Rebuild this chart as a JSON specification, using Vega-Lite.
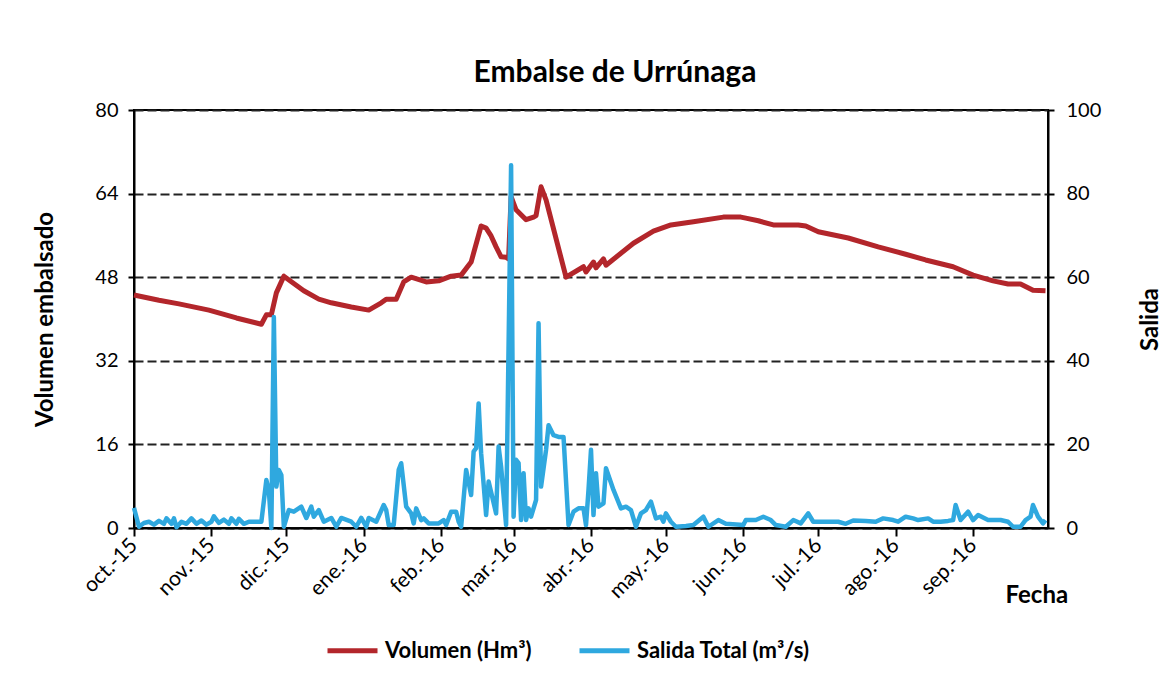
{
  "$schema": "https://vega.github.io/schema/vega-lite/v6.json",
  "width": 914,
  "height": 418,
  "autosize": "none",
  "padding": {"left": 134, "top": 110, "right": 125, "bottom": 153},
  "background": "white",
  "title": {"text": "Embalse de Urrúnaga", "fontSize": 30, "font": "Lato", "fontWeight": "bold", "color": "#000", "offset": 12, "dx": 24, "anchor": "middle", "frame": "group"},
  "datasets": {
    "vol": [
      {"f": "2015-10-01", "v": 44.6}, {"f": "2015-10-11", "v": 43.6}, {"f": "2015-10-19", "v": 42.9}, {"f": "2015-10-31", "v": 41.7},
      {"f": "2015-11-11", "v": 40.2}, {"f": "2015-11-21", "v": 39.0}, {"f": "2015-11-23", "v": 40.8}, {"f": "2015-11-25", "v": 40.8},
      {"f": "2015-11-27", "v": 45.0}, {"f": "2015-11-30", "v": 48.2}, {"f": "2015-12-08", "v": 45.4}, {"f": "2015-12-14", "v": 43.8},
      {"f": "2015-12-19", "v": 43.1}, {"f": "2015-12-27", "v": 42.3}, {"f": "2016-01-03", "v": 41.7}, {"f": "2016-01-08", "v": 43.1},
      {"f": "2016-01-10", "v": 43.8}, {"f": "2016-01-14", "v": 43.8}, {"f": "2016-01-17", "v": 47.1}, {"f": "2016-01-20", "v": 48.0},
      {"f": "2016-01-26", "v": 47.1}, {"f": "2016-01-31", "v": 47.3}, {"f": "2016-02-05", "v": 48.2}, {"f": "2016-02-09", "v": 48.4},
      {"f": "2016-02-13", "v": 50.9}, {"f": "2016-02-17", "v": 57.8}, {"f": "2016-02-19", "v": 57.4}, {"f": "2016-02-21", "v": 55.9},
      {"f": "2016-02-23", "v": 53.8}, {"f": "2016-02-25", "v": 51.9}, {"f": "2016-02-27", "v": 51.8}, {"f": "2016-02-28", "v": 51.5},
      {"f": "2016-02-29", "v": 63.4}, {"f": "2016-03-02", "v": 60.9}, {"f": "2016-03-06", "v": 59.0}, {"f": "2016-03-09", "v": 59.5},
      {"f": "2016-03-10", "v": 59.8}, {"f": "2016-03-12", "v": 65.3}, {"f": "2016-03-14", "v": 62.8}, {"f": "2016-03-22", "v": 48.0},
      {"f": "2016-03-29", "v": 50.0}, {"f": "2016-03-30", "v": 49.0}, {"f": "2016-04-02", "v": 50.9}, {"f": "2016-04-03", "v": 49.8},
      {"f": "2016-04-06", "v": 51.5}, {"f": "2016-04-07", "v": 50.3}, {"f": "2016-04-18", "v": 54.5}, {"f": "2016-04-26", "v": 56.8},
      {"f": "2016-05-03", "v": 58.0}, {"f": "2016-05-12", "v": 58.6}, {"f": "2016-05-24", "v": 59.5}, {"f": "2016-05-31", "v": 59.5},
      {"f": "2016-06-02", "v": 59.3}, {"f": "2016-06-07", "v": 58.8}, {"f": "2016-06-13", "v": 58.0}, {"f": "2016-06-23", "v": 58.0},
      {"f": "2016-06-26", "v": 57.8}, {"f": "2016-07-01", "v": 56.7}, {"f": "2016-07-13", "v": 55.5}, {"f": "2016-07-25", "v": 53.8},
      {"f": "2016-08-05", "v": 52.4}, {"f": "2016-08-13", "v": 51.3}, {"f": "2016-08-24", "v": 50.0}, {"f": "2016-09-01", "v": 48.4},
      {"f": "2016-09-09", "v": 47.3}, {"f": "2016-09-15", "v": 46.7}, {"f": "2016-09-20", "v": 46.7}, {"f": "2016-09-25", "v": 45.5},
      {"f": "2016-09-30", "v": 45.4}
    ],
    "sal": [
      {"f": "2015-10-01", "v": 4.8}, {"f": "2015-10-03", "v": 0.3}, {"f": "2015-10-05", "v": 1.2}, {"f": "2015-10-07", "v": 1.5},
      {"f": "2015-10-09", "v": 0.8}, {"f": "2015-10-11", "v": 1.7}, {"f": "2015-10-13", "v": 1.0}, {"f": "2015-10-14", "v": 2.3},
      {"f": "2015-10-16", "v": 1.0}, {"f": "2015-10-17", "v": 2.3}, {"f": "2015-10-18", "v": 0.2}, {"f": "2015-10-20", "v": 1.5},
      {"f": "2015-10-22", "v": 1.0}, {"f": "2015-10-24", "v": 2.3}, {"f": "2015-10-26", "v": 1.0}, {"f": "2015-10-28", "v": 1.8},
      {"f": "2015-10-30", "v": 0.8}, {"f": "2015-11-01", "v": 1.5}, {"f": "2015-11-02", "v": 2.8}, {"f": "2015-11-04", "v": 1.2},
      {"f": "2015-11-06", "v": 2.0}, {"f": "2015-11-08", "v": 1.0}, {"f": "2015-11-09", "v": 2.3}, {"f": "2015-11-11", "v": 1.0},
      {"f": "2015-11-12", "v": 2.2}, {"f": "2015-11-14", "v": 1.0}, {"f": "2015-11-16", "v": 1.5}, {"f": "2015-11-21", "v": 1.5},
      {"f": "2015-11-23", "v": 11.5}, {"f": "2015-11-24", "v": 9.0}, {"f": "2015-11-25", "v": 0.0}, {"f": "2015-11-26", "v": 50.5},
      {"f": "2015-11-27", "v": 9.9}, {"f": "2015-11-28", "v": 13.9}, {"f": "2015-11-29", "v": 12.7}, {"f": "2015-11-30", "v": 0.3},
      {"f": "2015-12-02", "v": 4.3}, {"f": "2015-12-04", "v": 3.9}, {"f": "2015-12-07", "v": 5.1}, {"f": "2015-12-09", "v": 2.4},
      {"f": "2015-12-11", "v": 5.1}, {"f": "2015-12-12", "v": 2.7}, {"f": "2015-12-14", "v": 4.3}, {"f": "2015-12-16", "v": 1.5},
      {"f": "2015-12-19", "v": 2.4}, {"f": "2015-12-21", "v": 0.3}, {"f": "2015-12-23", "v": 2.4}, {"f": "2015-12-27", "v": 1.5},
      {"f": "2015-12-29", "v": 0.3}, {"f": "2015-12-31", "v": 2.4}, {"f": "2016-01-02", "v": 0.3}, {"f": "2016-01-03", "v": 2.4},
      {"f": "2016-01-06", "v": 1.5}, {"f": "2016-01-09", "v": 5.5}, {"f": "2016-01-10", "v": 4.3}, {"f": "2016-01-11", "v": 0.7},
      {"f": "2016-01-13", "v": 0.7}, {"f": "2016-01-15", "v": 13.9}, {"f": "2016-01-16", "v": 15.5}, {"f": "2016-01-18", "v": 5.1},
      {"f": "2016-01-20", "v": 3.5}, {"f": "2016-01-21", "v": 1.1}, {"f": "2016-01-22", "v": 4.7}, {"f": "2016-01-24", "v": 1.9},
      {"f": "2016-01-25", "v": 2.3}, {"f": "2016-01-27", "v": 1.1}, {"f": "2016-01-31", "v": 1.1}, {"f": "2016-02-02", "v": 1.9},
      {"f": "2016-02-03", "v": 0.7}, {"f": "2016-02-05", "v": 3.9}, {"f": "2016-02-07", "v": 3.9}, {"f": "2016-02-08", "v": 1.5},
      {"f": "2016-02-09", "v": 0.3}, {"f": "2016-02-11", "v": 13.9}, {"f": "2016-02-13", "v": 7.9}, {"f": "2016-02-14", "v": 18.3},
      {"f": "2016-02-15", "v": 19.1}, {"f": "2016-02-16", "v": 29.8}, {"f": "2016-02-17", "v": 17.9}, {"f": "2016-02-19", "v": 3.1},
      {"f": "2016-02-20", "v": 11.1}, {"f": "2016-02-23", "v": 3.5}, {"f": "2016-02-24", "v": 19.5}, {"f": "2016-02-25", "v": 14.7},
      {"f": "2016-02-27", "v": 0.7}, {"f": "2016-02-29", "v": 86.8}, {"f": "2016-03-01", "v": 2.7}, {"f": "2016-03-02", "v": 16.3},
      {"f": "2016-03-03", "v": 15.5}, {"f": "2016-03-04", "v": 1.9}, {"f": "2016-03-05", "v": 13.1}, {"f": "2016-03-06", "v": 1.9},
      {"f": "2016-03-07", "v": 4.7}, {"f": "2016-03-08", "v": 2.7}, {"f": "2016-03-10", "v": 6.7}, {"f": "2016-03-11", "v": 49.0},
      {"f": "2016-03-12", "v": 9.9}, {"f": "2016-03-14", "v": 18.7}, {"f": "2016-03-15", "v": 24.6}, {"f": "2016-03-17", "v": 22.2},
      {"f": "2016-03-19", "v": 21.8}, {"f": "2016-03-21", "v": 21.8}, {"f": "2016-03-23", "v": 0.7}, {"f": "2016-03-25", "v": 3.9},
      {"f": "2016-03-27", "v": 4.7}, {"f": "2016-03-29", "v": 4.7}, {"f": "2016-03-30", "v": 0.7}, {"f": "2016-03-31", "v": 9.1},
      {"f": "2016-04-01", "v": 18.7}, {"f": "2016-04-02", "v": 3.1}, {"f": "2016-04-03", "v": 13.1}, {"f": "2016-04-04", "v": 5.1},
      {"f": "2016-04-06", "v": 5.9}, {"f": "2016-04-07", "v": 14.3}, {"f": "2016-04-10", "v": 9.1}, {"f": "2016-04-13", "v": 4.7},
      {"f": "2016-04-15", "v": 5.1}, {"f": "2016-04-17", "v": 4.3}, {"f": "2016-04-19", "v": 0.3}, {"f": "2016-04-21", "v": 3.5},
      {"f": "2016-04-23", "v": 4.3}, {"f": "2016-04-25", "v": 6.3}, {"f": "2016-04-27", "v": 2.3}, {"f": "2016-04-29", "v": 2.7},
      {"f": "2016-04-30", "v": 1.5}, {"f": "2016-05-01", "v": 3.5}, {"f": "2016-05-03", "v": 1.5}, {"f": "2016-05-05", "v": 0.3},
      {"f": "2016-05-09", "v": 0.5}, {"f": "2016-05-12", "v": 0.7}, {"f": "2016-05-16", "v": 2.7}, {"f": "2016-05-18", "v": 0.3},
      {"f": "2016-05-22", "v": 1.9}, {"f": "2016-05-25", "v": 1.0}, {"f": "2016-06-01", "v": 0.7}, {"f": "2016-06-02", "v": 1.9},
      {"f": "2016-06-06", "v": 1.9}, {"f": "2016-06-09", "v": 2.7}, {"f": "2016-06-12", "v": 1.9}, {"f": "2016-06-14", "v": 0.7},
      {"f": "2016-06-18", "v": 0.3}, {"f": "2016-06-21", "v": 1.9}, {"f": "2016-06-24", "v": 1.1}, {"f": "2016-06-27", "v": 3.5},
      {"f": "2016-06-29", "v": 1.5}, {"f": "2016-07-04", "v": 1.5}, {"f": "2016-07-09", "v": 1.5}, {"f": "2016-07-12", "v": 1.0},
      {"f": "2016-07-15", "v": 1.8}, {"f": "2016-07-20", "v": 1.7}, {"f": "2016-07-24", "v": 1.5}, {"f": "2016-07-27", "v": 2.3},
      {"f": "2016-07-31", "v": 1.9}, {"f": "2016-08-02", "v": 1.5}, {"f": "2016-08-05", "v": 2.7}, {"f": "2016-08-08", "v": 2.3},
      {"f": "2016-08-10", "v": 1.9}, {"f": "2016-08-14", "v": 2.3}, {"f": "2016-08-16", "v": 1.5}, {"f": "2016-08-19", "v": 1.5},
      {"f": "2016-08-22", "v": 1.7}, {"f": "2016-08-24", "v": 1.9}, {"f": "2016-08-25", "v": 5.5}, {"f": "2016-08-27", "v": 1.9},
      {"f": "2016-08-30", "v": 3.9}, {"f": "2016-09-01", "v": 1.9}, {"f": "2016-09-03", "v": 3.1}, {"f": "2016-09-07", "v": 1.9},
      {"f": "2016-09-12", "v": 1.9}, {"f": "2016-09-15", "v": 1.5}, {"f": "2016-09-17", "v": 0.3}, {"f": "2016-09-20", "v": 0.3},
      {"f": "2016-09-22", "v": 1.9}, {"f": "2016-09-24", "v": 2.7}, {"f": "2016-09-25", "v": 5.5}, {"f": "2016-09-27", "v": 2.7},
      {"f": "2016-09-29", "v": 1.1}, {"f": "2016-09-30", "v": 1.9}
    ]
  },
  "encoding": {
    "x": {
      "field": "f", "type": "temporal",
      "scale": {"type": "utc", "domain": [1443657600000, 1475280000000]},
      "axis": {
        "title": "Fecha", "titleX": 871, "titleY": 74, "titleAlign": "left", "titleBaseline": "alphabetic",
        "titleFontSize": 24, "titleFontWeight": "bold", "titleColor": "#000", "titleFont": "Lato",
        "values": [1443657600000, 1446336000000, 1448928000000, 1451606400000, 1454284800000, 1456790400000, 1459468800000, 1462060800000, 1464739200000, 1467331200000, 1470009600000, 1472688000000],
        "labelExpr": "['ene.','feb.','mar.','abr.','may.','jun.','jul.','ago.','sep.','oct.','nov.','dic.'][utcmonth(datum.value)] + '-' + utcFormat(datum.value, '%y')",
        "labelAngle": -45, "labelAlign": "right", "labelBaseline": "middle", "labelFontSize": 21, "labelFont": "Lato",
        "labelColor": "#000", "labelPadding": 6, "labelOverlap": false, "labelFlush": false,
        "tickSize": 8, "tickColor": "#000", "tickWidth": 2, "domainColor": "#000", "domainWidth": 2, "grid": false
      }
    }
  },
  "layer": [
    {
      "data": {"name": "vol"},
      "mark": {"type": "line", "strokeWidth": 5, "strokeJoin": "round", "color": "#B3262B"},
      "encoding": {
        "y": {
          "field": "v", "type": "quantitative", "scale": {"domain": [0, 80]},
          "axis": {
            "orient": "left", "values": [0, 16, 32, 48, 64, 80], "title": "Volumen embalsado",
            "titleX": -89, "titleY": 209, "titleAngle": -90, "titleAlign": "center", "titleBaseline": "middle",
            "titleFontSize": 24, "titleFontWeight": "bold", "titleColor": "#000", "titleFont": "Lato",
            "labelFontSize": 20, "labelFont": "Lato", "labelColor": "#000", "labelPadding": 10,
            "tickSize": 6, "tickColor": "#000", "tickWidth": 2, "domainColor": "#000", "domainWidth": 2,
            "grid": true, "gridDash": [9, 4], "gridColor": "#222", "gridWidth": 2
          }
        },
        "color": {
          "datum": "Volumen (Hm³)",
          "scale": {"domain": ["Volumen (Hm³)", "Salida Total (m³/s)"], "range": ["#B3262B", "#2FA8DF"]},
          "legend": {
            "orient": "none", "legendX": 191, "legendY": 513, "direction": "horizontal", "title": null,
            "symbolType": "stroke", "symbolSize": 2500, "symbolStrokeWidth": 5,
            "labelFontSize": 22, "labelFontWeight": "bold", "labelFont": "Lato", "labelColor": "#000",
            "labelOffset": 5, "columnPadding": 37, "labelLimit": 500
          }
        }
      }
    },
    {
      "data": {"name": "sal"},
      "mark": {"type": "line", "strokeWidth": 4.5, "strokeJoin": "round", "color": "#2FA8DF"},
      "encoding": {
        "y": {
          "field": "v", "type": "quantitative", "scale": {"domain": [0, 100]},
          "axis": {
            "orient": "right", "values": [0, 20, 40, 60, 80, 100], "title": "Salida",
            "titleX": 102, "titleY": 209, "titleAngle": -90, "titleAlign": "center", "titleBaseline": "middle",
            "titleFontSize": 24, "titleFontWeight": "bold", "titleColor": "#000", "titleFont": "Lato",
            "labelFontSize": 20, "labelFont": "Lato", "labelColor": "#000", "labelPadding": 12,
            "tickSize": 6, "tickColor": "#000", "tickWidth": 2, "domainColor": "#000", "domainWidth": 2,
            "grid": false
          }
        },
        "color": {"datum": "Salida Total (m³/s)"}
      }
    }
  ],
  "resolve": {"scale": {"y": "independent"}},
  "config": {"view": {"stroke": "#000", "strokeWidth": 2}, "font": "Lato", "legend": {"labelLimit": 500}}
}
